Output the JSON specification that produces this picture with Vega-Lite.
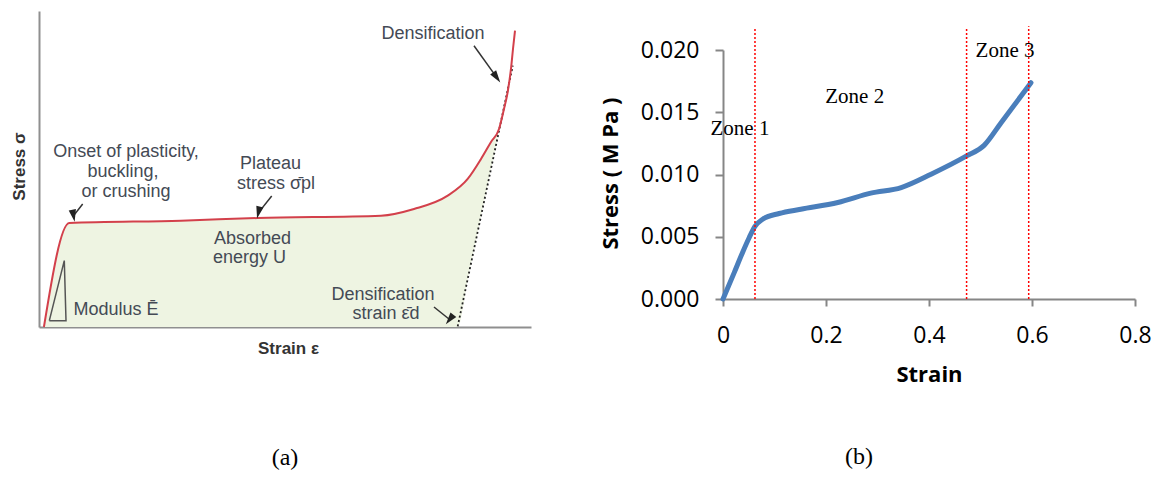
{
  "$schema": "https://vega.github.io/schema/vega-lite/v6.json",
  "background": "white",
  "padding": {"left": 10, "top": 11, "right": 5, "bottom": 5},
  "bounds": "flush",
  "spacing": 192,
  "config": {"view": {"stroke": null}, "axis": {"grid": false}},
  "datasets": {
    "curveA": [
      {"x": 0.01, "y": 0.0}, {"x": 0.0616, "y": 0.329}, {"x": 0.2886, "y": 0.3364}, {"x": 0.4445, "y": 0.3449},
      {"x": 0.6951, "y": 0.3522}, {"x": 0.7622, "y": 0.3734}, {"x": 0.8307, "y": 0.4155}, {"x": 0.8713, "y": 0.4684},
      {"x": 0.8984, "y": 0.5316}, {"x": 0.9187, "y": 0.5854}, {"x": 0.935, "y": 0.6266}, {"x": 0.9451, "y": 0.6899},
      {"x": 0.9526, "y": 0.7437}, {"x": 0.9593, "y": 0.8165}, {"x": 0.9634, "y": 0.8797}, {"x": 0.9675, "y": 0.9377}
    ],
    "fillA": [
      {"x": 0.01, "y": 0.0, "y2": 0.0}, {"x": 0.0616, "y": 0.329, "y2": 0.0}, {"x": 0.2886, "y": 0.3364, "y2": 0.0},
      {"x": 0.4445, "y": 0.3449, "y2": 0.0}, {"x": 0.6951, "y": 0.3522, "y2": 0.0}, {"x": 0.7622, "y": 0.3734, "y2": 0.0},
      {"x": 0.8307, "y": 0.4155, "y2": 0.0}, {"x": 0.851, "y": 0.442, "y2": 0.0}, {"x": 0.8713, "y": 0.4684, "y2": 0.15},
      {"x": 0.8984, "y": 0.5316, "y2": 0.35}, {"x": 0.9187, "y": 0.5854, "y2": 0.5}, {"x": 0.936, "y": 0.628, "y2": 0.628}
    ],
    "dottedA": [{"x": 0.851, "y": 0.002}, {"x": 0.963, "y": 0.827}],
    "triA": [
      {"x": 0.021, "y": 0.02, "o": 1}, {"x": 0.0549, "y": 0.02, "o": 2},
      {"x": 0.0514, "y": 0.21, "o": 3}, {"x": 0.021, "y": 0.02, "o": 4}
    ],
    "shaftsA": [
      {"id": 1, "x": 0.8841, "y": 0.8902, "x2": 0.9303, "y2": 0.7899},
      {"id": 2, "x": 0.0888, "y": 0.3892, "x2": 0.0701, "y2": 0.3519},
      {"id": 3, "x": 0.473, "y": 0.4146, "x2": 0.4461, "y2": 0.362},
      {"id": 4, "x": 0.8028, "y": 0.0633, "x2": 0.8346, "y2": 0.0237}
    ],
    "headsA": [
      {"id": 1, "x": 0.9303, "y": 0.7899}, {"id": 2, "x": 0.0701, "y": 0.3519},
      {"id": 3, "x": 0.4461, "y": 0.362}, {"id": 4, "x": 0.8346, "y": 0.0237}
    ],
    "textA": [
      {"x": 0.8008, "y": 0.9272, "label": "Densification"},
      {"x": 0.1768, "y": 0.5538, "label": "Onset of plasticity,"},
      {"x": 0.1707, "y": 0.4905, "label": "buckling,"},
      {"x": 0.1768, "y": 0.4272, "label": "or crushing"},
      {"x": 0.4705, "y": 0.5158, "label": "Plateau"},
      {"x": 0.4817, "y": 0.4525, "label": "stress σ̄pl"},
      {"x": 0.434, "y": 0.2785, "label": "Absorbed"},
      {"x": 0.4278, "y": 0.2184, "label": "energy U"},
      {"x": 0.6992, "y": 0.1027, "label": "Densification"},
      {"x": 0.7053, "y": 0.0413, "label": "strain ε̄d"},
      {"x": 0.1565, "y": 0.0538, "label": "Modulus Ē"}
    ],
    "curveB": [
      {"x": 0.0, "y": 0.0}, {"x": 0.022, "y": 0.00214}, {"x": 0.038, "y": 0.00374}, {"x": 0.051, "y": 0.00494},
      {"x": 0.062, "y": 0.00583}, {"x": 0.077, "y": 0.00641}, {"x": 0.109, "y": 0.00687}, {"x": 0.151, "y": 0.00721},
      {"x": 0.223, "y": 0.00775}, {"x": 0.287, "y": 0.0085}, {"x": 0.346, "y": 0.00895}, {"x": 0.404, "y": 0.01002},
      {"x": 0.473, "y": 0.01149}, {"x": 0.507, "y": 0.01234}, {"x": 0.54, "y": 0.01416}, {"x": 0.598, "y": 0.01737}
    ],
    "zonesB": [
      {"x": 0.0621, "y": 0, "y2": 0.0218},
      {"x": 0.473, "y": 0, "y2": 0.0217},
      {"x": 0.5936, "y": 0, "y2": 0.0219}
    ],
    "zoneTextB": [
      {"x": 0.033, "y": 0.01363, "label": "Zone 1"},
      {"x": 0.2557, "y": 0.01623, "label": "Zone 2"},
      {"x": 0.5476, "y": 0.0199, "label": "Zone 3"}
    ]
  },
  "hconcat": [
    {
      "width": 492,
      "height": 316,
      "title": {"text": "(a)", "orient": "bottom", "anchor": "middle", "offset": 102, "baseline": "middle", "font": "Liberation Serif", "fontSize": 24, "fontWeight": "normal", "color": "black"},
      "encoding": {
        "x": {"field": "x", "type": "quantitative", "scale": {"domain": [0, 1], "nice": false, "zero": false},
          "axis": {"title": "Strain ε", "labels": false, "ticks": false, "grid": false, "domainColor": "#8f8f8f", "domainWidth": 2,
            "titleFont": "Liberation Sans", "titleFontSize": 17, "titleFontWeight": "bold", "titleColor": "#333333",
            "titleX": 249, "titleY": 21, "titleBaseline": "middle"}},
        "y": {"field": "y", "type": "quantitative", "scale": {"domain": [0, 1], "nice": false, "zero": false},
          "axis": {"title": "Stress σ", "labels": false, "ticks": false, "grid": false, "domainColor": "#8f8f8f", "domainWidth": 2,
            "titleFont": "Liberation Sans", "titleFontSize": 17, "titleFontWeight": "bold", "titleColor": "#333333",
            "titleX": -20, "titleY": 155, "titleBaseline": "middle"}}
      },
      "layer": [
        {"data": {"name": "fillA"}, "mark": {"type": "area", "color": "#eef4e2", "opacity": 1, "interpolate": "monotone"},
          "encoding": {"y2": {"field": "y2"}}},
        {"data": {"name": "dottedA"}, "mark": {"type": "line", "color": "#222222", "strokeWidth": 1.8, "strokeDash": [2, 2.5]}, "encoding": {}},
        {"data": {"name": "curveA"}, "mark": {"type": "line", "color": "#d3404b", "strokeWidth": 2, "interpolate": "monotone"}, "encoding": {}},
        {"data": {"name": "triA"}, "mark": {"type": "line", "color": "#555555", "strokeWidth": 1.5},
          "encoding": {"order": {"field": "o", "type": "quantitative"}}},
        {"data": {"name": "shaftsA"}, "mark": {"type": "rule", "color": "#333333", "strokeWidth": 1.5},
          "encoding": {"x2": {"field": "x2"}, "y2": {"field": "y2"}}},
        {"data": {"name": "headsA"}, "mark": {"type": "point", "shape": "M0,-1L0.6,1L-0.6,1Z", "filled": true, "color": "#222222", "size": 150, "opacity": 1},
          "encoding": {"angle": {"field": "id", "type": "ordinal", "scale": {"domain": [1, 2, 3, 4], "range": [144.5, 218, 218.6, 128.7]}, "legend": null}}},
        {"data": {"name": "textA"}, "mark": {"type": "text", "font": "Liberation Sans", "fontSize": 18, "color": "#444a55", "align": "center", "baseline": "middle"},
          "encoding": {"text": {"field": "label"}}}
      ]
    },
    {
      "width": 412,
      "height": 288,
      "title": {"text": "(b)", "orient": "bottom", "anchor": "middle", "offset": 72, "dx": -70, "baseline": "middle", "font": "Liberation Serif", "fontSize": 24, "fontWeight": "normal", "color": "black"},
      "encoding": {
        "x": {"field": "x", "type": "quantitative", "scale": {"domain": [0, 0.8], "nice": false, "zero": false},
          "axis": {"title": "Strain", "values": [0, 0.2, 0.4, 0.6, 0.8], "format": ".1~f", "labelFlush": false, "labelOverlap": false,
            "labelFont": "Open Sans", "labelFontSize": 23, "labelColor": "black", "labelPadding": 18,
            "tickSize": 7, "tickColor": "#868686", "tickWidth": 2, "domainColor": "#868686", "domainWidth": 2,
            "titleFont": "Open Sans", "titleFontSize": 22, "titleFontWeight": "bold", "titleColor": "black",
            "titleX": 206, "titleY": 75, "titleBaseline": "middle"}},
        "y": {"field": "y", "type": "quantitative", "scale": {"domain": [0, 0.02], "range": [288, 39], "nice": false, "zero": false},
          "axis": {"title": "Stress ( M Pa )", "values": [0, 0.005, 0.01, 0.015, 0.02], "format": ".3f", "labelFlush": false, "labelOverlap": false,
            "domain": true, "domainColor": "#868686", "domainWidth": 2,
            "labelFont": "Open Sans", "labelFontSize": 23, "labelColor": "black", "labelPadding": 16,
            "tickSize": 8, "tickColor": "#868686", "tickWidth": 2,
            "titleFont": "Open Sans", "titleFontSize": 22, "titleFontWeight": "bold", "titleColor": "black",
            "titleX": -113, "titleY": 162, "titleBaseline": "middle"}}
      },
      "layer": [
        {"data": {"name": "zoneTextB"}, "mark": {"type": "text", "font": "Liberation Serif", "fontSize": 21, "color": "black", "align": "center", "baseline": "middle"},
          "encoding": {"text": {"field": "label"}}},
        {"data": {"name": "curveB"}, "mark": {"type": "line", "color": "#4a7ebb", "strokeWidth": 5, "strokeCap": "round", "interpolate": "monotone"}, "encoding": {}},
        {"data": {"name": "zonesB"}, "mark": {"type": "rule", "color": "#ff0000", "strokeWidth": 1.5, "strokeDash": [2, 2]},
          "encoding": {"y2": {"field": "y2"}}}
      ]
    }
  ]
}
